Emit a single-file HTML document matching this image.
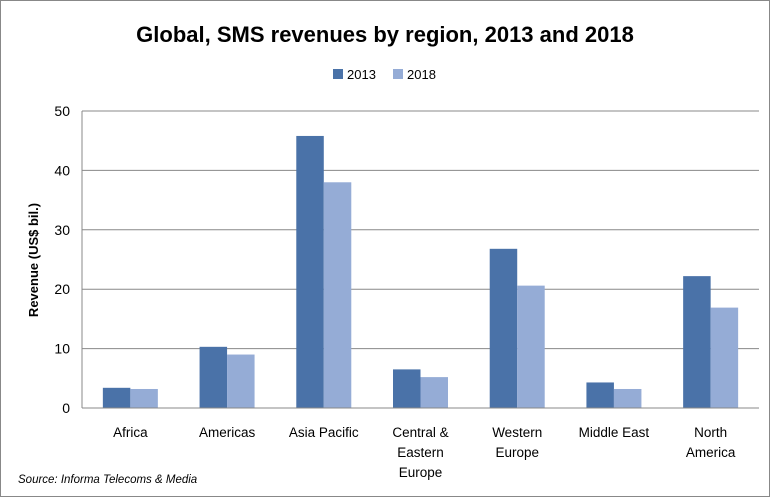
<!DOCTYPE html>
<html><head><meta charset="utf-8"><style>
body{margin:0;background:#fff;}
svg{display:block;font-family:"Liberation Sans",sans-serif;}
</style></head><body>
<svg id="c" width="770" height="497" xmlns="http://www.w3.org/2000/svg">
<rect x="0.5" y="0.5" width="769" height="496" fill="#fff" stroke="#888"/>
<text x="385" y="42" text-anchor="middle" font-size="22" font-weight="bold" fill="#000">Global,  SMS revenues by region, 2013 and 2018</text>
<g>
<rect x="333" y="69" width="10" height="10" fill="#4a72a8"/>
<text x="347" y="79" font-size="13">2013</text>
<rect x="393" y="69" width="10" height="10" fill="#95acd6"/>
<text x="407" y="79" font-size="13">2018</text>
</g>
<text transform="translate(38,260) rotate(-90)" text-anchor="middle" font-size="13" font-weight="bold">Revenue (US$ bil.)</text>
<g id="g"></g>
<text x="18" y="483" font-size="11.5" font-style="italic">Source: Informa Telecoms &amp; Media</text>
</svg>
<script>
const categories=[["Africa"],["Americas"],["Asia Pacific"],["Central &","Eastern","Europe"],["Western","Europe"],["Middle East"],["North","America"]];
const s2013=[3.4,10.3,45.8,6.5,26.8,4.3,22.2];
const s2018=[3.2,9.0,38.0,5.2,20.6,3.2,16.9];
const yTicks=[0,10,20,30,40,50];
const NS="http://www.w3.org/2000/svg";
const g=document.getElementById('g');
const L=82,R=759,T=111,B=408,ymax=50;
const y=v=>B-(v/ymax)*(B-T);
const cw=(R-L)/categories.length;
const x=i=>L+cw*(i+0.5);
function mk(t,a){const e=document.createElementNS(NS,t);for(const k in a)e.setAttribute(k,a[k]);g.appendChild(e);return e;}
yTicks.forEach(v=>{
 if(v>0){const l=mk('line',{x1:L,x2:R,y1:y(v),y2:y(v),stroke:'#888','stroke-width':1});
 
 }
 const t=mk('text',{x:L-12,y:y(v)+5,'text-anchor':'end','font-size':14});
 t.textContent=v;
 
 
});
const bw=27.5;
categories.forEach((c,i)=>{
 const b1=mk('rect',{x:x(i)-bw,y:y(s2013[i]),width:bw,height:B-y(s2013[i]),fill:'#4a72a8'});
 
 
 const b2=mk('rect',{x:x(i),y:y(s2018[i]),width:bw,height:B-y(s2018[i]),fill:'#95acd6'});
 
 
 c.forEach((ln,j)=>{
  const t=mk('text',{x:x(i),y:437+j*20,'text-anchor':'middle','font-size':13.5});
  t.textContent=ln;
  
  
 });
});
const ax=mk('line',{x1:L,x2:L,y1:T,y2:B,stroke:'#888'});


const bx=mk('line',{x1:L,x2:R,y1:B,y2:B,stroke:'#888'});


</script>
</body></html>
